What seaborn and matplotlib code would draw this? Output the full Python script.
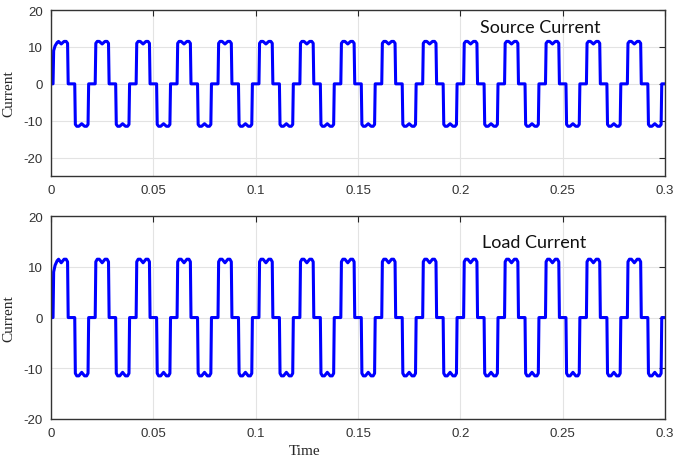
import matplotlib
matplotlib.use('Agg')
import matplotlib.pyplot as plt
import numpy as np
import pandas as pd
import seaborn as sns

# one steady-state cycle of the six-pulse line current
period = 0.02
n_cycles = 15
cycle_t = [0.0, 0.0016, 0.0019, 0.0026, 0.0036, 0.0050, 0.0064, 0.0074, 0.0081, 0.0084,
           0.0116, 0.0119, 0.0126, 0.0136, 0.0150, 0.0164, 0.0174, 0.0181, 0.0184, 0.0200]
cycle_i = [0.0, 0.0, 11.0, 11.5, 11.5, 10.8, 11.5, 11.5, 11.0, 0.0,
           0.0, -11.0, -11.5, -11.5, -10.8, -11.5, -11.5, -11.0, 0.0, 0.0]
# first cycle has a short start-up ramp on the positive pulse
first_t = [0.0, 0.0010, 0.0013, 0.0020, 0.0030, 0.0037, 0.0050, 0.0064, 0.0074, 0.0081, 0.0084]
first_i = [0.0, 0.0, 9.0, 10.3, 11.2, 11.5, 10.8, 11.5, 11.5, 11.0, 0.0]

x_ticks = [0, 0.05, 0.1, 0.15, 0.2, 0.25, 0.3]
x_ticklabels = ['0', '0.05', '0.1', '0.15', '0.2', '0.25', '0.3']
y_ticks = [-20, -10, 0, 10, 20]
panels = ['Source Current', 'Load Current']


def build_wave():
    ts, vs = list(first_t), list(first_i)
    ct, ci = np.array(cycle_t), np.array(cycle_i)
    keep = ct > 0.0084
    ts += list(ct[keep]); vs += list(ci[keep])
    for k in range(1, n_cycles):
        ts += list(ct[1:] + k * period); vs += list(ci[1:])
    return pd.DataFrame({'Time': ts, 'Current': vs})


wave = build_wave()

sns.set_style('white')
plt.rcParams['axes.unicode_minus'] = False
plt.rcParams['font.family'] = ['Liberation Sans', 'DejaVu Sans']
fig = plt.figure(figsize=(6.9, 4.6), dpi=100)
ax_top = fig.add_axes([0.0739, 0.615, 0.8899, 0.361])
ax_bot = fig.add_axes([0.0739, 0.087, 0.8899, 0.441])

for ax, title, ylim, tx, ty in [(ax_top, panels[0], (-25, 20), 0.797, 0.895),
                                 (ax_bot, panels[1], (-20, 20), 0.787, 0.872)]:
    sns.lineplot(data=wave, x='Time', y='Current', ax=ax, color='#0000ff', lw=2.2,
                 estimator=None, sort=False)
    ax.lines[-1].set_solid_joinstyle('round')
    ax.set_xlim(0, 0.3)
    ax.set_ylim(*ylim)
    ax.set_xticks(x_ticks)
    ax.set_xticklabels(x_ticklabels)
    ax.set_yticks(y_ticks)
    ax.grid(True, color='#e3e3e3', lw=0.8)
    ax.tick_params(direction='in', length=4, top=True, right=True, labelsize=9.5,
                   colors='#262626', labelcolor='#333333', pad=6)
    for s in ax.spines.values():
        s.set_color('#333333')
        s.set_linewidth(1.0)
    ax.set_xlabel('')
    ax.set_ylabel('Current', family='Liberation Serif', fontsize=11)
    ax.yaxis.set_label_coords(-0.058, 0.5)
    ax.text(tx, ty, title, transform=ax.transAxes, ha='center', va='center',
            family='Lato', fontsize=13, color='#111111')

fig.text(0.442, 0.01, 'Time', family='Liberation Serif', fontsize=11, ha='center')
fig.savefig('out.png', dpi=100)
